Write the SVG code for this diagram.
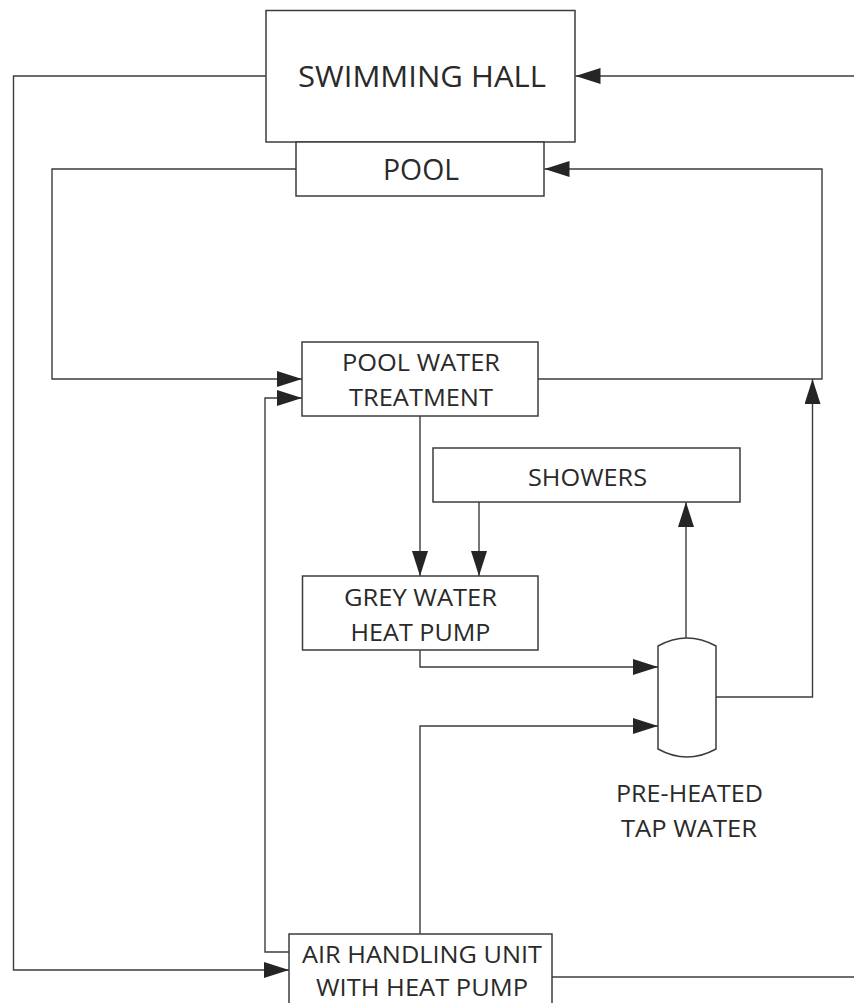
<svg xmlns="http://www.w3.org/2000/svg" width="854" height="1003" viewBox="0 0 854 1003">
<style>
.box{fill:#fff;stroke:#3c3c3c;stroke-width:1.5}
.ln{fill:none;stroke:#3c3c3c;stroke-width:1.4}
.t{font-family:"Open Sans","Liberation Sans",sans-serif;fill:#2a2a2a;text-anchor:middle;font-size:23px}
.tb{font-size:29px}
</style>
<defs>
<marker id="ah" markerUnits="userSpaceOnUse" markerWidth="26" markerHeight="18" refX="25" refY="8" orient="auto">
<path d="M0,0 L25,8 L0,16 Z" fill="#252525"/>
</marker>
</defs>
<rect x="0" y="0" width="854" height="1003" fill="#fff"/>
<g id="connectors">
<path class="ln" d="M266,76 H13.5 V970 H289" marker-end="url(#ah)"/>
<path class="ln" d="M854,76 H575.5" marker-end="url(#ah)"/>
<path class="ln" d="M296,169 H52 V379 H302" marker-end="url(#ah)"/>
<path class="ln" d="M538,379 H822 V169 H544.5" marker-end="url(#ah)"/>
<path class="ln" d="M420,416 V576" marker-end="url(#ah)"/>
<path class="ln" d="M479,502 V576" marker-end="url(#ah)"/>
<path class="ln" d="M420,650 V667 H658" marker-end="url(#ah)"/>
<path class="ln" d="M420,934 V726 H658" marker-end="url(#ah)"/>
<path class="ln" d="M686,638 V502" marker-end="url(#ah)"/>
<path class="ln" d="M716,697 H812.5 V379" marker-end="url(#ah)"/>
<path class="ln" d="M289,952 H265 V398 H302" marker-end="url(#ah)"/>
<path class="ln" d="M552,977 H854"/>
</g>
<g id="swimming-hall">
<rect class="box" x="266" y="10.5" width="309" height="131.5"/>
<text class="t tb" x="422" y="87" textLength="248" lengthAdjust="spacingAndGlyphs">SWIMMING HALL</text>
</g>
<g id="pool">
<rect class="box" x="296" y="142" width="248" height="54"/>
<text class="t tb" x="421" y="180" textLength="76" lengthAdjust="spacingAndGlyphs">POOL</text>
</g>
<g id="pool-water-treatment">
<rect class="box" x="302" y="342" width="236" height="74"/>
<text class="t" x="421" y="371" textLength="158" lengthAdjust="spacingAndGlyphs">POOL WATER</text>
<text class="t" x="421" y="406" textLength="144" lengthAdjust="spacingAndGlyphs">TREATMENT</text>
</g>
<g id="showers">
<rect class="box" x="433" y="448" width="307" height="54"/>
<text class="t" x="587.5" y="486" textLength="119" lengthAdjust="spacingAndGlyphs">SHOWERS</text>
</g>
<g id="grey-water-heat-pump">
<rect class="box" x="302.5" y="576" width="235.5" height="74"/>
<text class="t" x="420.5" y="606" textLength="153" lengthAdjust="spacingAndGlyphs">GREY WATER</text>
<text class="t" x="420.5" y="641" textLength="140" lengthAdjust="spacingAndGlyphs">HEAT PUMP</text>
</g>
<g id="pre-heated-tap-water">
<path class="box" d="M658,646 Q687,630 716,646 V749 Q687,765 658,749 Z"/>
<text class="t" x="689.5" y="802" textLength="147" lengthAdjust="spacingAndGlyphs">PRE-HEATED</text>
<text class="t" x="689" y="837" textLength="136" lengthAdjust="spacingAndGlyphs">TAP WATER</text>
</g>
<g id="air-handling-unit">
<rect class="box" x="289" y="934" width="263" height="80"/>
<text class="t" x="422" y="963" textLength="240" lengthAdjust="spacingAndGlyphs">AIR HANDLING UNIT</text>
<text class="t" x="422" y="996" textLength="212" lengthAdjust="spacingAndGlyphs">WITH HEAT PUMP</text>
</g>
</svg>
